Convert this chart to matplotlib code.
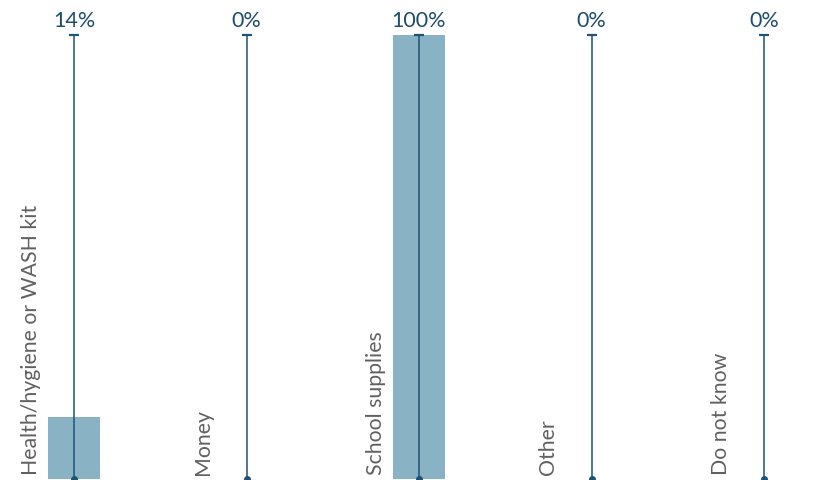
import matplotlib.pyplot as plt

categories = ["Health/hygiene or WASH kit", "Money", "School supplies", "Other", "Do not know"]
values = [14, 0, 100, 0, 0]
value_labels = ["14%", "0%", "100%", "0%", "0%"]

bar_color = "#89b2c5"
line_color = "#1f5273"
text_color = "#606060"
pct_color = "#1d4d6b"

fig = plt.figure(figsize=(8.37, 4.81), dpi=100)
ax = fig.add_axes([0, 1 / 481, 1, 444 / 481])

x = list(range(len(categories)))
ax.bar(x, values, width=0.296, color=bar_color, zorder=1)

for i in x:
    ax.plot([i, i], [0, 100], color=line_color, lw=1.1, zorder=2, clip_on=False)
    ax.plot(i, 100, marker="_", ms=7, mew=1.6, color=line_color, clip_on=False, zorder=3)
    ax.plot(i, 0, marker="o", ms=4, color=line_color, clip_on=False, zorder=3)
    ax.text(i, 102, value_labels[i], ha="center", va="baseline", fontsize=15.5,
            color=pct_color, family="Lato")
    ax.text(i - 0.215, 1.1, categories[i], rotation=90, ha="left", va="baseline",
            rotation_mode="anchor", fontsize=15.3, color=text_color,
            family="Lato")

ax.set_xlim(-74 / 172.5, (837 - 74) / 172.5)
ax.set_ylim(0, 100)
ax.axis("off")

fig.savefig("out.png", dpi=100)
